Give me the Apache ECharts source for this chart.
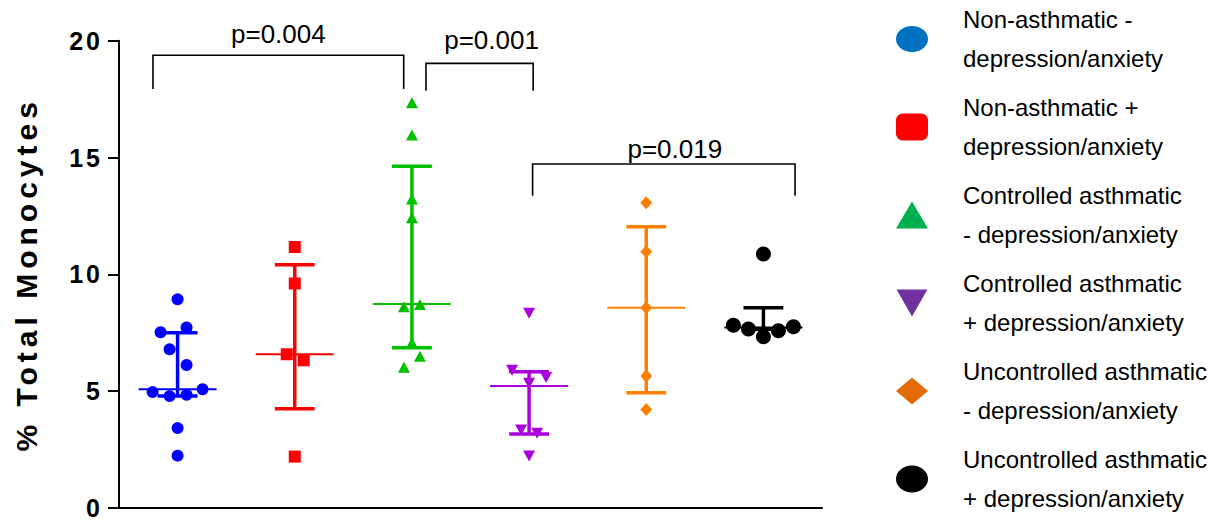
<!DOCTYPE html>
<html>
<head>
<meta charset="utf-8">
<script src="https://cdn.jsdelivr.net/npm/echarts@6/dist/echarts.min.js"></script>
<style>
html, body { margin: 0; padding: 0; background: #fff; }
#main { width: 1225px; height: 523px; }
</style>
</head>
<body>
<div id="main"></div>
<script>
// groups (legend text keeps the two-line layout of the figure)
const groupNames = [
	'Non-asthmatic -\ndepression/anxiety',
	'Non-asthmatic +\ndepression/anxiety',
	'Controlled asthmatic\n- depression/anxiety',
	'Controlled asthmatic\n+ depression/anxiety',
	'Uncontrolled asthmatic\n- depression/anxiety',
	'Uncontrolled asthmatic\n+ depression/anxiety'
];

// individual values, % total monocytes
const nonAsthNoDep = [8.93, 7.52, 7.73, 6.79, 6.12, 4.96, 4.79, 4.85, 5.08, 3.42, 2.24];
const nonAsthDep = [11.17, 9.61, 6.58, 6.32, 2.20];
const ctrlNoDep = [17.34, 15.96, 13.22, 12.42, 8.61, 8.71, 7.07, 6.50, 6.02];
const ctrlDep = [8.33, 5.90, 5.58, 5.34, 3.34, 3.20, 2.23];
const unctrlNoDep = [13.06, 10.97, 8.57, 5.65, 4.22];
const unctrlDep = [10.87, 7.82, 7.66, 7.33, 7.59, 7.76];
const groupValues = [nonAsthNoDep, nonAsthDep, ctrlNoDep, ctrlDep, unctrlNoDep, unctrlDep];

// median and interquartile range
const medians = [5.08, 6.58, 8.73, 5.22, 8.57, 7.73];
const lowerQ = [4.79, 4.25, 6.86, 3.17, 4.93, 7.65];
const upperQ = [7.50, 10.41, 14.63, 5.83, 12.04, 8.57];

// significance brackets
const bracketFrom = [0, 2, 3];
const bracketTo = [2, 3, 5];
const bracketTop = [19.38, 19.03, 14.72];
const bracketFoot = [17.93, 17.86, 13.36];
const bracketP = ['p=0.004', 'p=0.001', 'p=0.019'];

const yTicks = ['0', '5', '10', '15', '20'];
const yTitle = '% Total Monocytes';

// styling
const pointColors = ['#0000ff', '#ff0000', '#00c000', '#aa00dd', '#ff8000', '#000000'];
const legendColors = ['#0070c0', '#ff0000', '#00b050', '#7030a0', '#e36c09', '#000000'];
const symbols = ['circle', 'rect', 'triangle', 'triangle', 'diamond', 'circle'];
const symbolSizes = [12, 12, [12, 11], [12, 11], [12, 13], 15];
const symbolRotates = [0, 0, 0, 180, 0, 0];
const legendIcons = [
	'path://M16,0 A16,13 0 1,1 16,26 A16,13 0 1,1 16,0 Z',
	'roundRect',
	'triangle',
	'path://M0,0 L32,0 L16,28 Z',
	'diamond',
	'path://M16,0 A16,13.5 0 1,1 16,27 A16,13.5 0 1,1 16,0 Z'
];
// horizontal scatter of the dots, px
const jitter = [
	[0, -17, 9, -8, 9, -25, -8, 9, 25, 0, 0],
	[0, 0, -8, 9, 0],
	[0, 0, 0, 0, -8, 8, 0, 8, -8],
	[0, -17, 17, 0, -8, 8, 0],
	[0, 0, 0, 0, 0],
	[0, -30, -15, 0, 15, 30]
];
// bracket ends as fraction of a category band, label shift in px
const bracketShift = [[-0.21, -0.07], [0.12, 0.035], [0.03, 0.27]];
const labelShift = [[0, -21], [12, -23], [11, -15]];

const myChart = echarts.init(document.getElementById('main'), null, {renderer: 'svg'});

const barSeries = {
	type: 'custom',
	z: 1,
	encode: {x: 0, y: [1, 2, 3]},
	data: medians.map((m, i) => [i, m, lowerQ[i], upperQ[i]]),
	renderItem: function (params, api) {
		const g = api.value(0);
		const mid = api.coord([g, api.value(1)]);
		const lo = api.coord([g, api.value(2)]);
		const hi = api.coord([g, api.value(3)]);
		const band = api.size([1, 0])[0];
		const cx = mid[0];
		const c = pointColors[g];
		const thick = {stroke: c, lineWidth: 3.5};
		const cap = band * 0.17;
		const med = band * 0.333;
		return {
			type: 'group',
			children: [
				{type: 'line', shape: {x1: cx - med, y1: mid[1], x2: cx + med, y2: mid[1]}, style: {stroke: c, lineWidth: 2}},
				{type: 'line', shape: {x1: cx, y1: lo[1], x2: cx, y2: hi[1]}, style: thick},
				{type: 'line', shape: {x1: cx - cap, y1: hi[1], x2: cx + cap, y2: hi[1]}, style: thick},
				{type: 'line', shape: {x1: cx - cap, y1: lo[1], x2: cx + cap, y2: lo[1]}, style: thick}
			]
		};
	}
};

const bracketSeries = {
	type: 'custom',
	z: 3,
	encode: {x: [0, 1], y: [2, 3]},
	data: bracketFrom.map((f, i) => [f, bracketTo[i], bracketTop[i], bracketFoot[i]]),
	renderItem: function (params, api) {
		const i = params.dataIndex;
		const band = api.size([1, 0])[0];
		const a = api.coord([api.value(0), api.value(2)]);
		const b = api.coord([api.value(1), api.value(3)]);
		const x1 = a[0] + bracketShift[i][0] * band;
		const x2 = b[0] + bracketShift[i][1] * band;
		const yTop = a[1];
		const yFoot = b[1];
		return {
			type: 'group',
			children: [
				{type: 'polyline', shape: {points: [[x1, yFoot], [x1, yTop], [x2, yTop], [x2, yFoot]]},
					style: {stroke: '#000', lineWidth: 1.6, fill: null}},
				{type: 'text', x: (x1 + x2) / 2 + labelShift[i][0], y: yTop + labelShift[i][1],
					style: {text: bracketP[i], fill: '#000', font: '26px "Liberation Sans", Arial, sans-serif',
						align: 'center', verticalAlign: 'middle'}}
			]
		};
	}
};

const dotSeries = groupValues.map((vals, g) => ({
	name: groupNames[g],
	type: 'scatter',
	z: 2,
	symbol: symbols[g],
	symbolSize: symbolSizes[g],
	symbolRotate: symbolRotates[g],
	itemStyle: {color: pointColors[g], opacity: 1},
	data: vals.map((v, k) => ({value: [g, v], symbolOffset: [jitter[g][k], 0]}))
}));

myChart.setOption({
	animation: false,
	backgroundColor: '#fff',
	grid: {left: 119, right: 403, top: 40.7, bottom: 15},
	legend: {
		orient: 'vertical',
		left: 896,
		top: 0,
		bottom: 0,
		padding: 0,
		itemGap: 10,
		itemWidth: 32,
		itemHeight: 27,
		selectedMode: false,
		textStyle: {
			fontFamily: '"Liberation Sans", Arial, sans-serif',
			fontSize: 24,
			lineHeight: 39,
			color: '#000',
			padding: [0, 0, 0, 30]
		},
		data: groupNames.map((n, g) => ({name: n, icon: legendIcons[g], itemStyle: {color: legendColors[g]}}))
	},
	xAxis: {
		type: 'category',
		data: groupNames,
		axisLine: {lineStyle: {color: '#000', width: 2}},
		axisTick: {alignWithLabel: true, length: 13, lineStyle: {color: '#000', width: 2}},
		axisLabel: {show: false},
		splitLine: {show: false}
	},
	yAxis: {
		type: 'value',
		min: 0,
		max: 20,
		interval: 5,
		name: yTitle,
		nameLocation: 'middle',
		nameRotate: 90,
		nameGap: 78,
		nameTextStyle: {fontFamily: '"Liberation Sans", Arial, sans-serif', fontSize: 30, fontWeight: 'bold', color: '#000'},
		axisLine: {show: true, lineStyle: {color: '#000', width: 2}},
		axisTick: {show: true, length: 11, lineStyle: {color: '#000', width: 2}},
		axisLabel: {
			margin: 16,
			fontFamily: '"Liberation Sans", Arial, sans-serif',
			fontSize: 25,
			fontWeight: 'bold',
			color: '#000',
			formatter: v => yTicks[yTicks.indexOf(String(v))]
		},
		splitLine: {show: false}
	},
	series: [barSeries].concat(dotSeries, [bracketSeries])
});

// letter spacing of the axis texts, as in the figure
const spaceText = () => {
	document.querySelectorAll('#main text').forEach(t => {
		const s = t.textContent;
		if (yTicks.includes(s)) t.setAttribute('letter-spacing', '3px');
		else if (s === yTitle) t.setAttribute('letter-spacing', '5px');
	});
};
myChart.on('finished', spaceText);
spaceText();
setTimeout(spaceText, 0);
</script>
</body>
</html>
